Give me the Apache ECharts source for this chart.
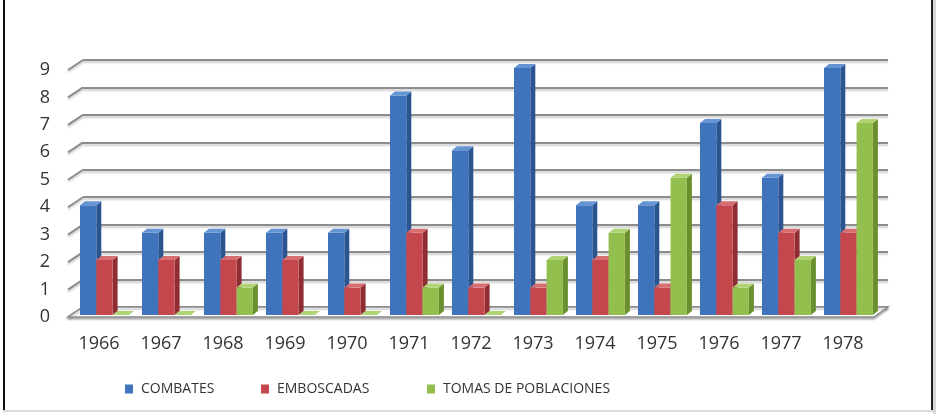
<!DOCTYPE html>
<html>
<head>
<meta charset="utf-8">
<script src="https://cdn.jsdelivr.net/npm/echarts@6/dist/echarts.min.js"></script>
<style>
html,body{margin:0;padding:0;background:#fff;}
#chart{width:936px;height:414px;}
</style>
</head>
<body>
<div id="chart"></div>
<script>
// ---- data ----
var years = ['1966','1967','1968','1969','1970','1971','1972','1973','1974','1975','1976','1977','1978'];
var combates = [4,3,3,3,3,8,6,9,4,4,7,5,9];
var emboscadas = [2,2,2,2,1,3,1,1,2,1,4,3,3];
var tomas = [0,0,1,0,0,1,0,2,3,5,1,2,7];
var yTicks = [0,1,2,3,4,5,6,7,8,9];
var seriesNames = ['COMBATES','EMBOSCADAS','TOMAS DE POBLACIONES'];

// ---- style ----
var FONT = '"Open Sans", sans-serif';
var palette = [
  {front:'#3f74bd', side:'#2a5590', top:'#6594d3'},
  {front:'#c4474d', side:'#8f2d32', top:'#d66d71'},
  {front:'#93bf4e', side:'#6a8f2f', top:'#b0d373'}
];
var barW = 16.3, DX = 5, DY = -4, LIFT = 2;
var offsets = [-19, -2.7, 13.6];
var GRID_COLOR = '#8c8c8c';

function barRenderer(si){
  var pal = palette[si];
  return function(params, api){
    var top = api.coord([api.value(0), api.value(1)]);
    var base = api.coord([api.value(0), 0]);
    var l = top[0] + offsets[si];
    var t = top[1] - LIFT, b = base[1] - LIFT, r = l + barW;
    return {
      type:'group',
      children:[
        {type:'polygon', shape:{points:[[r,t],[r+DX,t+DY],[r+DX,b+DY],[r,b]]}, style:{fill:pal.side}},
        {type:'rect', shape:{x:l, y:t, width:barW, height:b-t}, style:{fill:pal.front}},
        {type:'polygon', shape:{points:[[l,t],[l+DX,t+DY],[r+DX,t+DY],[r,t]]}, style:{fill:pal.top}}
      ]
    };
  };
}

function barSeries(si, arr){
  return {
    name: seriesNames[si], type:'custom', xAxisIndex:0, yAxisIndex:0, z:5,
    itemStyle:{color: palette[si].front},
    renderItem: barRenderer(si),
    encode:{x:0, y:1},
    data: arr.map(function(v,i){ return [i, v]; })
  };
}

var legendText = {fontFamily:FONT, fontSize:14, color:'#333', padding:[0,0,0,3]};

var chart = echarts.init(document.getElementById('chart'), null, {renderer:'canvas'});
var option = {
  backgroundColor:'#fff',
  animation:false,
  grid:[
    {left:68, right:62, top:70, bottom:97},
    {left:83, right:48, top:60, bottom:107}
  ],
  xAxis:[
    {type:'category', gridIndex:0, data:years, axisLine:{show:false}, axisTick:{show:false},
     axisLabel:{fontFamily:FONT, fontSize:18, color:'#333', margin:18}},
    {type:'category', gridIndex:1, data:years, show:false}
  ],
  yAxis:[
    {type:'value', gridIndex:0, min:0, max:9, interval:1, splitLine:{show:false},
     axisLine:{show:false}, axisTick:{show:false},
     axisLabel:{fontFamily:FONT, fontSize:18, color:'#333', margin:18}},
    {type:'value', gridIndex:1, min:0, max:9, interval:1,
     axisLabel:{show:false}, axisLine:{show:false}, axisTick:{show:false},
     splitLine:{show:true, lineStyle:{color:GRID_COLOR, width:2, shadowColor:'rgba(0,0,0,0.2)', shadowOffsetY:2, shadowBlur:2}}}
  ],
  legend:[
    {data:[seriesNames[0]], left:120, top:377, itemWidth:8, itemHeight:9, icon:'rect', textStyle:legendText},
    {data:[seriesNames[1]], left:256, top:377, itemWidth:8, itemHeight:9, icon:'rect', textStyle:legendText},
    {data:[seriesNames[2]], left:422, top:377, itemWidth:8, itemHeight:9, icon:'rect', textStyle:legendText}
  ],
  graphic:[
    {type:'rect', shape:{x:3, y:0, width:2, height:411}, style:{fill:'#111'}},
    {type:'rect', shape:{x:931, y:0, width:2, height:411}, style:{fill:'#222'}},
    {type:'rect', shape:{x:933, y:0, width:3, height:414}, style:{fill:'#d8d8d8'}},
    {type:'rect', shape:{x:3, y:410, width:930, height:2}, style:{fill:'#dcdcdc'}}
  ],
  series:[
    {
      type:'custom', xAxisIndex:0, yAxisIndex:0, z:1, silent:true,
      data: yTicks.map(function(v){ return [0, v]; }),
      encode:{x:0, y:1},
      renderItem:function(params, api){
        var p = api.coord([0, api.value(1)]);
        var x0 = params.coordSys.x;
        return {type:'line', shape:{x1:x0, y1:p[1], x2:x0+15, y2:p[1]-10},
                style:{stroke:GRID_COLOR, lineWidth:2, shadowColor:'rgba(0,0,0,0.2)', shadowOffsetY:2, shadowBlur:2}};
      }
    },
    {
      type:'custom', xAxisIndex:0, yAxisIndex:0, z:1, silent:true,
      data: [[0, 0]],
      encode:{x:0, y:1},
      renderItem:function(params, api){
        var p = api.coord([0, 0]);
        var cs = params.coordSys;
        var y = p[1];
        return {type:'polygon', shape:{points:[[cs.x, y],[cs.x+15, y-10],[cs.x+cs.width+14, y-10],[cs.x+cs.width, y]]},
                style:{fill:'#fff', stroke:GRID_COLOR, lineWidth:1.5, shadowColor:'rgba(0,0,0,0.25)', shadowOffsetY:2, shadowBlur:2}};
      }
    },
    barSeries(0, combates),
    barSeries(1, emboscadas),
    barSeries(2, tomas)
  ]
};
chart.setOption(option);
</script>
</body>
</html>
